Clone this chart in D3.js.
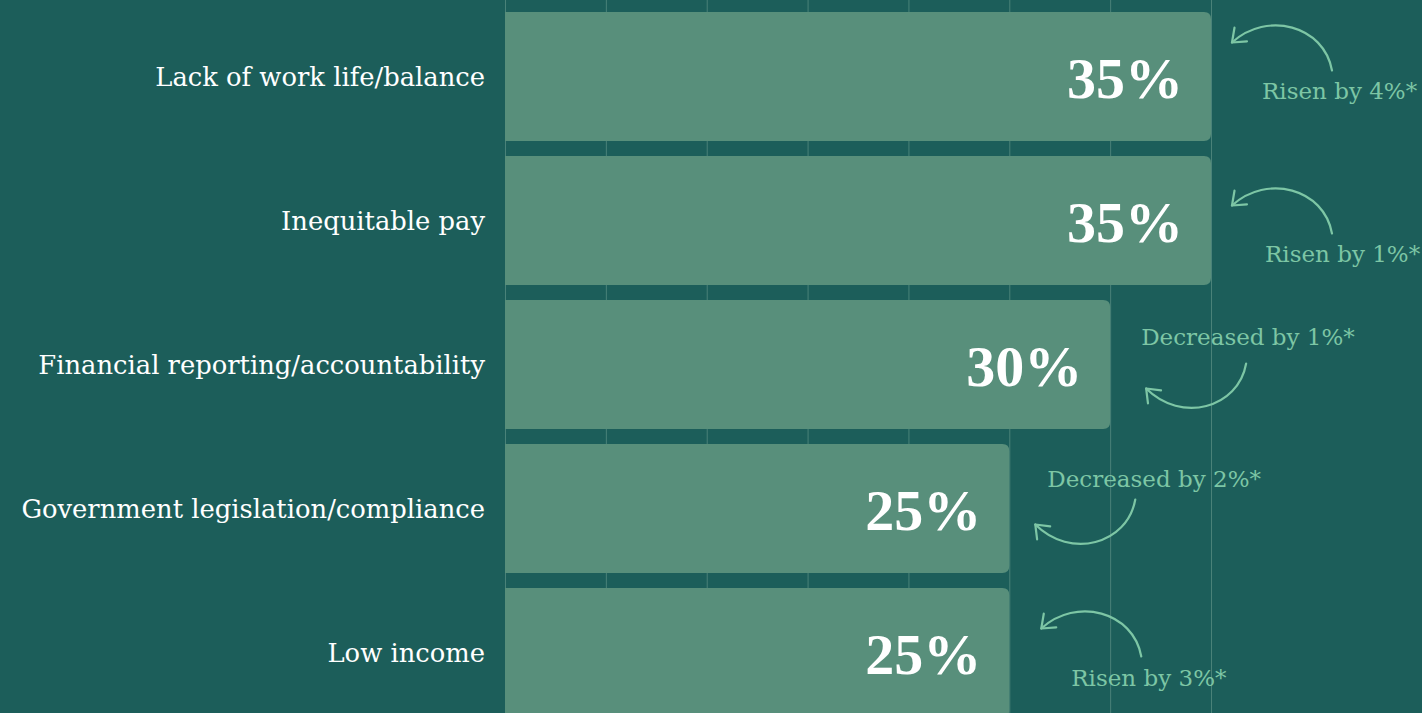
<!DOCTYPE html>
<html>
<head>
<meta charset="utf-8">
<script src="https://cdn.jsdelivr.net/npm/d3@7"></script>
<style>
  html, body { margin: 0; padding: 0; background: #1c5e5a; }
  svg { display: block; }
</style>
</head>
<body>
<svg id="chart" width="1422" height="713"></svg>
<script>
// Top concerns, share of respondents (%), with change since last survey
const categories = [
  "Lack of work life/balance",
  "Inequitable pay",
  "Financial reporting/accountability",
  "Government legislation/compliance",
  "Low income"
];
const values = [35, 35, 30, 25, 25];
const changes = [4, 1, -1, -2, 3];
const gridTicks = [0, 5, 10, 15, 20, 25, 30, 35];

// Annotation placement: text offset from bar end / bar centre, arrow tail offset from text
const annotationLayout = [
  { dx: 51, dy: 14, tx: 70, ty: -20 },
  { dx: 54, dy: 33, tx: 67, ty: -20 },
  { dx: 31, dy: -28, tx: 105, ty: 27 },
  { dx: 38, dy: -30, tx: 88, ty: 21 },
  { dx: 62, dy: 25, tx: 70, ty: -21 }
];

const W = 1422, H = 713;
const COLORS = { bar: "#588f7b", grid: "#4a8279", label: "#ffffff", note: "#7dc6a5" };
const SERIF = "'DejaVu Serif', 'Liberation Serif', serif";
const SERIF_NUM = "'Liberation Serif', 'DejaVu Serif', serif";

const svg = d3.select("#chart");

const x = d3.scaleLinear().domain([0, 35]).range([505, 1211]);
const y = d3.scaleBand()
  .domain(categories)
  .range([12, 717])
  .paddingInner(15 / 144)
  .paddingOuter(0);

// Vertical gridlines across the full height
svg.append("g")
  .selectAll("line")
  .data(gridTicks)
  .join("line")
  .attr("x1", d => x(d) + 0.5)
  .attr("x2", d => x(d) + 0.5)
  .attr("y1", 0)
  .attr("y2", H)
  .attr("stroke", COLORS.grid)
  .attr("stroke-width", 1);

// Bars: square left edge, rounded right corners
const r = 7;
function barPath(x0, x1, y0, h) {
  return `M${x0},${y0}H${x1 - r}Q${x1},${y0} ${x1},${y0 + r}V${y0 + h - r}Q${x1},${y0 + h} ${x1 - r},${y0 + h}H${x0}Z`;
}
svg.append("g")
  .selectAll("path")
  .data(categories)
  .join("path")
  .attr("d", (c, i) => barPath(x(0), x(values[i]), y(c), y.bandwidth()))
  .attr("fill", COLORS.bar);

// Category labels
svg.append("g")
  .selectAll("text")
  .data(categories)
  .join("text")
  .attr("x", x(0) - 20)
  .attr("y", c => y(c) + y.bandwidth() / 2)
  .attr("text-anchor", "end")
  .attr("dominant-baseline", "central")
  .attr("fill", COLORS.label)
  .attr("font-family", SERIF)
  .attr("font-size", 25.8)
  .text(c => c);

// Value labels inside bars
svg.append("g")
  .selectAll("text")
  .data(categories)
  .join("text")
  .attr("x", (c, i) => x(values[i]) - 28)
  .attr("y", c => y(c) + y.bandwidth() / 2 + 2)
  .attr("text-anchor", "end")
  .attr("dominant-baseline", "central")
  .attr("fill", COLORS.label)
  .attr("font-family", SERIF_NUM)
  .attr("font-weight", 700)
  .attr("font-size", 58)
  .text((c, i) => values[i] + "%");

// Change annotations with curved arrows
const notes = svg.append("g");
categories.forEach((c, i) => {
  const L = annotationLayout[i];
  const up = changes[i] > 0;
  const textX = x(values[i]) + L.dx;
  const textY = y(c) + y.bandwidth() / 2 + L.dy;
  const label = (up ? "Risen by " : "Decreased by ") + Math.abs(changes[i]) + "%*";

  notes.append("text")
    .attr("x", textX)
    .attr("y", textY)
    .attr("dominant-baseline", "central")
    .attr("fill", COLORS.note)
    .attr("font-family", SERIF)
    .attr("font-size", 23)
    .text(label);

  const sx = textX + L.tx, sy = textY + L.ty;
  const s = up ? -1 : 1;
  const c2 = [sx - 65, sy + s * 60];
  const tip = [sx - 100, sy + s * (up ? 28 : 25)];
  const path = `M${sx},${sy}C${sx - 8},${sy + s * 45} ${c2[0]},${c2[1]} ${tip[0]},${tip[1]}`;
  notes.append("path")
    .attr("d", path)
    .attr("fill", "none")
    .attr("stroke", COLORS.note)
    .attr("stroke-width", 2.2)
    .attr("stroke-linecap", "round");

  // open arrowhead pointing along the end of the curve
  const bx = c2[0] - tip[0], by = c2[1] - tip[1];
  const len = Math.hypot(bx, by);
  const ux = bx / len, uy = by / len;
  const a = 38 * Math.PI / 180, hl = 15;
  const rot = t => [tip[0] + hl * (ux * Math.cos(t) - uy * Math.sin(t)),
                    tip[1] + hl * (ux * Math.sin(t) + uy * Math.cos(t))];
  const h1 = rot(a), h2 = rot(-a);
  notes.append("path")
    .attr("d", `M${h1[0]},${h1[1]}L${tip[0]},${tip[1]}L${h2[0]},${h2[1]}`)
    .attr("fill", "none")
    .attr("stroke", COLORS.note)
    .attr("stroke-width", 2.2)
    .attr("stroke-linecap", "round")
    .attr("stroke-linejoin", "round");
});
</script>
</body>
</html>
